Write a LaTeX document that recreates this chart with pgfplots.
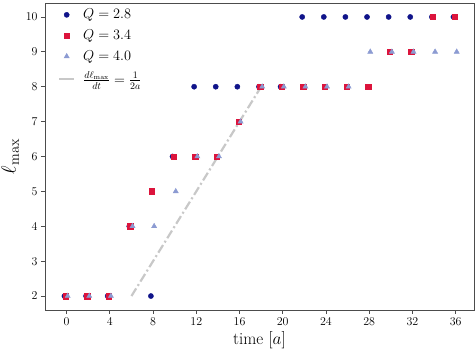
\documentclass[border=0pt]{standalone}
\usepackage{pgfplots}
\pgfplotsset{compat=1.18}
\definecolor{cnavy}{HTML}{10148A}
\definecolor{ccrim}{HTML}{DC143C}
\definecolor{ctri}{HTML}{8C9BD2}
\definecolor{cline}{HTML}{C8C8C8}

% t, l_max  (markers are shifted a little in t, as in the original)
\pgfplotstableread{
t l
-0.2 2
1.8 2
3.8 2
5.8 4
7.8 2
9.8 6
11.8 8
13.8 8
15.8 8
17.8 8
19.8 8
21.8 10
23.8 10
25.8 10
27.8 10
29.8 10
31.8 10
33.8 10
35.8 10
}\qa
\pgfplotstableread{
t l
-0.1 2
1.9 2
3.9 2
5.9 4
7.9 5
9.9 6
11.9 6
13.9 6
15.9 7
17.9 8
19.9 8
21.9 8
23.9 8
25.9 8
27.9 8
29.9 9
31.9 9
33.9 10
35.9 10
}\qb
\pgfplotstableread{
t l
0.1 2
2.1 2
4.1 2
6.1 4
8.1 4
10.1 5
12.1 6
14.1 6
16.1 7
18.1 8
20.1 8
22.1 8
24.1 8
26.1 8
28.1 9
30.1 9
32.1 9
34.1 9
36.1 9
}\qc

\begin{document}
\begin{tikzpicture}
\begin{axis}[
  scale only axis, width=429bp, height=307bp,
  xmin=-2, xmax=37.7, ymin=1.6, ymax=10.4,
  xtick={0,4,...,36}, ytick={2,...,10},
  tick align=outside, major tick length=4bp, tick pos=left,
  axis line style={draw=black!70, line width=0.8bp},
  every tick/.style={black!70, line width=0.8bp},
  tick label style={font=\fontsize{12}{14}\selectfont},
  xlabel={time $[a]$}, ylabel={$\ell_{\max}$},
  xlabel style={font=\fontsize{17}{20}\selectfont},
  ylabel style={font=\fontsize{21}{24}\selectfont},
  legend style={at={(0,1)}, anchor=north west, xshift=10bp, yshift=-2bp,
    draw=none, fill=none, row sep=5.5bp, column sep=6bp,
    nodes={font=\fontsize{14}{16}\selectfont}},
  legend cell align=left,
]
\addplot[only marks, mark=*, mark size=2.6bp, color=cnavy] table {\qa};
\addlegendentry{$Q=2.8$}
\addplot[only marks, mark=square*, mark size=2.7bp, color=ccrim] table {\qb};
\addlegendentry{$Q=3.4$}
\addplot[only marks, mark=triangle*, mark size=3bp, color=ctri] table {\qc};
\addlegendentry{$Q=4.0$}
\addplot[cline, line width=2.2bp, dash pattern=on 9bp off 3bp on 2bp off 3bp,
  legend image code/.code={\draw[cline, solid, line width=2bp] (1bp,0bp) -- (16bp,0bp);}]
  coordinates {(6,2) (18,8)};
\addlegendentry{$\frac{d\ell_{\max}}{dt}=\frac{1}{2a}$}
\end{axis}
\pgfresetboundingbox
\path ([shift={(-45bp,-43bp)}]current axis.south west) rectangle ([shift={(2bp,3bp)}]current axis.north east);
\end{tikzpicture}
\end{document}
